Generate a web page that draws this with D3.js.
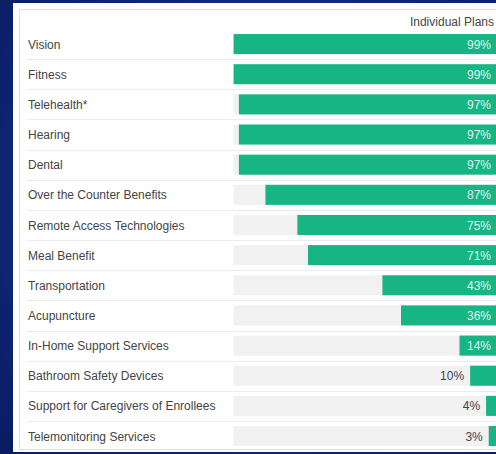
<!DOCTYPE html>
<html>
<head>
<meta charset="utf-8">
<script src="https://cdn.jsdelivr.net/npm/d3@7"></script>
<style>
  html, body { margin: 0; padding: 0; background: #0b2170; }
  svg { display: block; font-family: "Liberation Sans", Arial, sans-serif; }
</style>
</head>
<body>
<script>
const width = 496;
const height = 454;

const categories = [
  "Vision", "Fitness", "Telehealth*", "Hearing", "Dental",
  "Over the Counter Benefits", "Remote Access Technologies", "Meal Benefit",
  "Transportation", "Acupuncture", "In-Home Support Services",
  "Bathroom Safety Devices", "Support for Caregivers of Enrollees",
  "Telemonitoring Services"
];
const values = [99, 99, 97, 97, 97, 87, 75, 71, 43, 36, 14, 10, 4, 3];
const seriesName = "Individual Plans";

const data = categories.map((c, i) => ({ name: c, value: values[i] }));

const svg = d3.select("body")
  .append("svg")
  .attr("width", width)
  .attr("height", height);

// dark blue slide background
const defs = svg.append("defs");
const grad = defs.append("radialGradient")
  .attr("id", "bg")
  .attr("cx", "55%").attr("cy", "45%").attr("r", "75%");
grad.append("stop").attr("offset", "0%").attr("stop-color", "#1a3a9e");
grad.append("stop").attr("offset", "100%").attr("stop-color", "#0a1c62");

svg.append("rect")
  .attr("width", width)
  .attr("height", height)
  .attr("fill", "url(#bg)");

// white panel + thin inner border
svg.append("rect")
  .attr("x", 13).attr("y", 3)
  .attr("width", 490).attr("height", 449)
  .attr("fill", "#fff");

svg.append("rect")
  .attr("x", 19.5).attr("y", 9.5)
  .attr("width", 490).attr("height", 440)
  .attr("fill", "none")
  .attr("stroke", "#dedede");

const x = d3.scaleLinear().domain([0, 100]).range([496.7, 230.9]);
const y = d3.scaleBand()
  .domain(categories)
  .range([29, 451.1])
  .paddingInner(0.335)
  .paddingOuter(0.1675);

const gap = (y.step() - y.bandwidth()) / 2;
const trackStart = x(d3.max(values));

// row separators
svg.append("g")
  .selectAll("line")
  .data(data.slice(1))
  .join("line")
  .attr("x1", 27)
  .attr("x2", width)
  .attr("y1", d => Math.round(y(d.name) - gap) + 0.5)
  .attr("y2", d => Math.round(y(d.name) - gap) + 0.5)
  .attr("stroke", "#ececec");

// header
svg.append("text")
  .attr("x", 494)
  .attr("y", 26)
  .attr("text-anchor", "end")
  .attr("font-size", "12px")
  .attr("fill", "#444")
  .text(seriesName);

// category labels
svg.append("g")
  .selectAll("text")
  .data(data)
  .join("text")
  .attr("x", 28)
  .attr("y", d => y(d.name) + y.bandwidth() / 2)
  .attr("dy", "0.38em")
  .attr("font-size", "12px")
  .attr("fill", "#444")
  .text(d => d.name);

// gray tracks
svg.append("g")
  .selectAll("rect")
  .data(data)
  .join("rect")
  .attr("x", trackStart)
  .attr("y", d => y(d.name))
  .attr("width", x(0) - trackStart)
  .attr("height", y.bandwidth())
  .attr("fill", "#f1f1f1");

// green bars
svg.append("g")
  .selectAll("rect")
  .data(data)
  .join("rect")
  .attr("x", d => x(d.value))
  .attr("y", d => y(d.name))
  .attr("width", d => x(0) - x(d.value))
  .attr("height", y.bandwidth())
  .attr("fill", "#17b584");

// value labels
const inside = d => d.value >= 14;
svg.append("g")
  .selectAll("text")
  .data(data)
  .join("text")
  .attr("x", d => inside(d) ? 491 : x(d.value) - 6)
  .attr("y", d => y(d.name) + y.bandwidth() / 2)
  .attr("dy", "0.38em")
  .attr("text-anchor", "end")
  .attr("font-size", "12px")
  .attr("fill", d => inside(d) ? "#dff7ec" : "#444")
  .text(d => d.value + "%");
</script>
</body>
</html>
